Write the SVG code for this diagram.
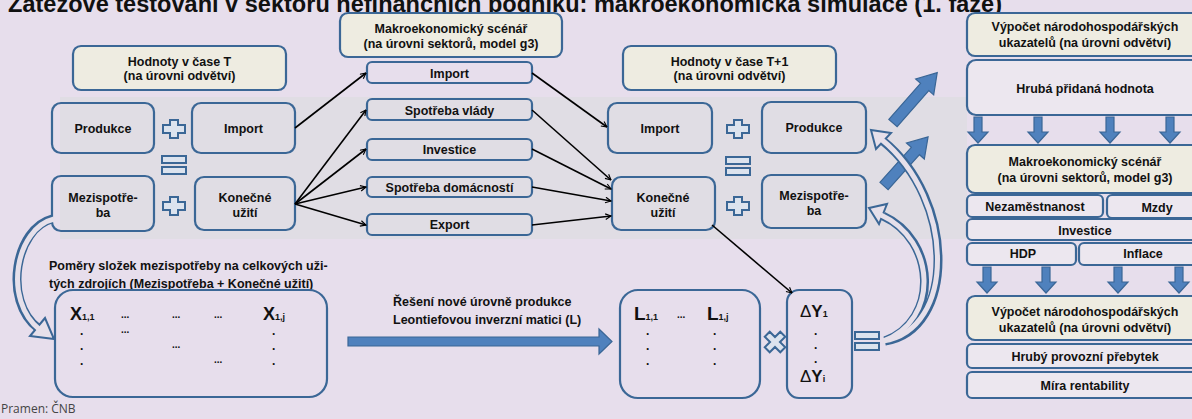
<svg xmlns="http://www.w3.org/2000/svg" width="1192" height="419" viewBox="0 0 1192 419">
<style>
.t{font-family:"Liberation Sans",Arial,sans-serif;font-weight:bold;font-size:12.5px;fill:#111;text-anchor:middle}
.tl{font-family:"Liberation Sans",Arial,sans-serif;font-weight:bold;font-size:12.5px;fill:#111}
.hd{fill:#EEECE1;stroke:#3B6796;stroke-width:2.2}
.bx{fill:none;stroke:#3B6796;stroke-width:2.2}
.rb{fill:#ECE7EF;stroke:#3B6796;stroke-width:2.2}
.sym{fill:#DCE3EE;stroke:#3B6796;stroke-width:2}
.ln{stroke:#000;stroke-width:1.6;fill:none;marker-end:url(#ah)}
.fat{fill:#4F81BD;stroke:#3A6696;stroke-width:1.2}
.cvo{fill:none;stroke:#3B6796;stroke-width:9}
.cvi{fill:none;stroke:#E6E0EA;stroke-width:5}
.hh{fill:#E6E0EA;stroke:#3B6796;stroke-width:2}
.mx{font-family:"Liberation Sans",Arial,sans-serif;font-weight:bold;fill:#111}
</style>
<defs>
<marker id="ah" viewBox="0 0 10 10" refX="9" refY="5" markerWidth="7" markerHeight="7" orient="auto" markerUnits="userSpaceOnUse">
<path d="M1,1 L9,5 L1,9" fill="none" stroke="#000" stroke-width="1.6"/>
</marker>
<path id="plus" d="M-4,-9 h8 v5 h7 v8 h-7 v5 h-8 v-5 h-7 v-8 h7 z"/>
<g id="eq"><rect x="-12" y="-9" width="24" height="7"/><rect x="-12" y="2" width="24" height="7"/></g>
<path id="times" d="M-3.5,-11 h7 v7.5 h7.5 v7 h-7.5 v7.5 h-7 v-7.5 h-7.5 v-7 h7.5 z" transform="rotate(45)"/>
<path id="down" d="M-4,0 h8 v15 h6 l-10,11 l-10,-11 h6 z"/>
</defs>

<rect width="1192" height="419" fill="#E7DEEC"/>
<rect x="60" y="97" width="907" height="142" fill="#E0DDE4"/>

<text x="8" y="11.5" font-family="Liberation Sans,Arial,sans-serif" font-weight="bold" font-size="23" fill="#111" textLength="994" lengthAdjust="spacingAndGlyphs">Zátěžové testování v sektoru nefinančních podniků: makroekonomická simulace (1. fáze)</text>

<g id="hodnotyT">
<rect class="hd" x="73" y="46" width="213" height="44" rx="8"/>
<text class="t" x="179.5" y="65.5">Hodnoty v čase T</text>
<text class="t" x="179.5" y="80">(na úrovni odvětví)</text>
</g>
<g id="produkceT"><rect class="bx" x="52" y="103" width="102" height="50" rx="9"/><text class="t" x="103" y="132.5">Produkce</text></g>
<g id="importT"><rect class="bx" x="192" y="103" width="103" height="50" rx="9"/><text class="t" x="243.5" y="132.5">Import</text></g>
<g id="mezispotrebaT"><rect class="bx" x="52" y="176" width="102" height="55" rx="9"/><text class="t" x="103" y="201.5">Mezispotře-</text><text class="t" x="103" y="216.5">ba</text></g>
<g id="konecneT"><rect class="bx" x="195" y="177" width="100" height="53" rx="9"/><text class="t" x="245" y="201.5">Konečné</text><text class="t" x="245" y="216.5">užití</text></g>
<g id="symT" class="sym"><use href="#plus" x="174" y="129"/><use href="#eq" x="174" y="165"/><use href="#plus" x="174" y="206"/></g>

<g id="makro">
<rect class="hd" x="340" y="13" width="222" height="44" rx="8"/>
<text class="t" x="451" y="32.5">Makroekonomický scénář</text>
<text class="t" x="451" y="47.5">(na úrovni sektorů, model g3)</text>
</g>
<g id="m-import"><rect class="bx" x="367" y="62" width="165" height="21" rx="5"/><text class="t" x="449.5" y="77.5">Import</text></g>
<g id="m-vlady"><rect class="bx" x="367" y="99" width="165" height="21" rx="5"/><text class="t" x="449.5" y="114.5">Spotřeba vlády</text></g>
<g id="m-investice"><rect class="bx" x="367" y="139" width="165" height="21" rx="5"/><text class="t" x="449.5" y="154">Investice</text></g>
<g id="m-domacnosti"><rect class="bx" x="367" y="177" width="165" height="20" rx="5"/><text class="t" x="449.5" y="191.5">Spotřeba domácností</text></g>
<g id="m-export"><rect class="bx" x="367" y="214" width="165" height="21" rx="5"/><text class="t" x="449.5" y="229">Export</text></g>

<g id="hodnotyT1">
<rect class="hd" x="623" y="46" width="213" height="44" rx="8"/>
<text class="t" x="729.5" y="65.5">Hodnoty v čase T+1</text>
<text class="t" x="729.5" y="80">(na úrovni odvětví)</text>
</g>
<g id="importT1"><rect class="bx" x="608" y="103" width="104" height="50" rx="9"/><text class="t" x="660" y="132.5">Import</text></g>
<g id="produkceT1"><rect class="bx" x="762" y="102" width="104" height="51" rx="9"/><text class="t" x="814" y="131.5">Produkce</text></g>
<g id="konecneT1"><rect class="bx" x="612" y="177" width="103" height="53" rx="9"/><text class="t" x="663" y="201.5">Konečné</text><text class="t" x="663" y="216.5">užití</text></g>
<g id="mezispotrebaT1"><rect class="bx" x="762" y="175" width="104" height="53" rx="9"/><text class="t" x="814" y="199.5">Mezispotře-</text><text class="t" x="814" y="214.5">ba</text></g>
<g id="symT1" class="sym"><use href="#plus" x="738" y="129"/><use href="#eq" x="738" y="166"/><use href="#plus" x="738" y="206"/></g>

<g id="pomery">
<text class="tl" x="49" y="270">Poměry  složek mezispotřeby na celkových uži-</text>
<text class="tl" x="49" y="288">tých zdrojích (Mezispotřeba + Konečné užití)</text>
</g>
<g id="matrixX">
<rect class="bx" x="55" y="290" width="272" height="107" rx="18"/>
<g class="mx">
<text x="70" y="320" font-size="18">X<tspan font-size="9">1,1</tspan></text>
<text x="263" y="320" font-size="18">X<tspan font-size="9">1,j</tspan></text>
<g font-size="10"><text x="121" y="318">...</text><text x="172" y="318">...</text><text x="214" y="318">...</text>
<text x="121" y="333">...</text><text x="172" y="348">...</text><text x="214" y="363">...</text></g>
<g font-size="12"><text x="80" y="335">.</text><text x="80" y="350">.</text><text x="80" y="365">.</text>
<text x="272" y="335">.</text><text x="272" y="350">.</text><text x="272" y="365">.</text></g>
</g>
</g>

<g id="reseni">
<text class="tl" x="393" y="306">Řešení nové úrovně produkce</text>
<text class="tl" x="393" y="324">Leontiefovou inverzní matici (L)</text>
</g>

<g id="matrixL">
<rect class="bx" x="620" y="290" width="140" height="108" rx="18"/>
<g class="mx">
<text x="634" y="320" font-size="19">L<tspan font-size="9">1,1</tspan></text>
<text x="707" y="320" font-size="19">L<tspan font-size="9">1,j</tspan></text>
<text x="677" y="318" font-size="10">...</text>
<g font-size="12"><text x="646" y="335">.</text><text x="646" y="350">.</text><text x="646" y="365">.</text>
<text x="713" y="335">.</text><text x="713" y="350">.</text><text x="713" y="365">.</text></g>
</g>
</g>
<g id="matrixY">
<rect class="bx" x="787" y="290" width="65" height="108" rx="12"/>
<g class="mx">
<text x="800" y="317" font-size="17"><tspan font-weight="normal">Δ</tspan>Y<tspan font-size="9">1</tspan></text>
<text x="800" y="382" font-size="17"><tspan font-weight="normal">Δ</tspan>Y<tspan font-size="9">i</tspan></text>
<g font-size="12"><text x="814" y="335">.</text><text x="814" y="349">.</text><text x="814" y="363">.</text></g>
</g>
</g>
<g id="symBottom" class="sym"><use href="#times" x="775" y="342"/><use href="#eq" x="867" y="341"/></g>

<g id="rightColumn">
<rect class="hd" x="967" y="13" width="236" height="43" rx="8"/>
<text class="t" x="1085" y="30.5">Výpočet národohospodářských</text>
<text class="t" x="1085" y="46.5">ukazatelů (na úrovni odvětví)</text>
<rect class="rb" x="967" y="60" width="236" height="55" rx="9"/>
<text class="t" x="1085" y="92.5">Hrubá přidaná hodnota</text>
<g class="fat"><use href="#down" x="978" y="117"/><use href="#down" x="1038" y="117"/><use href="#down" x="1110" y="117"/><use href="#down" x="1170" y="117"/></g>
<rect class="hd" x="967" y="145" width="236" height="48" rx="8"/>
<text class="t" x="1085" y="166">Makroekonomický scénář</text>
<text class="t" x="1085" y="182">(na úrovni sektorů, model g3)</text>
<rect class="rb" x="967" y="195" width="136" height="22" rx="5"/>
<text class="t" x="1035" y="211">Nezaměstnanost</text>
<rect class="rb" x="1107" y="195" width="96" height="23" rx="5"/>
<text class="t" x="1157" y="212">Mzdy</text>
<rect class="rb" x="967" y="219" width="236" height="21" rx="5"/>
<text class="t" x="1085" y="234.5">Investice</text>
<rect class="rb" x="967" y="243" width="109" height="22" rx="5"/>
<text class="t" x="1023" y="257.5">HDP</text>
<rect class="rb" x="1079" y="243" width="124" height="22" rx="5"/>
<text class="t" x="1143" y="257.5">Inflace</text>
<g class="fat"><use href="#down" x="987" y="267"/><use href="#down" x="1046" y="267"/><use href="#down" x="1118" y="267"/><use href="#down" x="1179" y="267"/></g>
<rect class="hd" x="967" y="296" width="236" height="44" rx="8"/>
<text class="t" x="1085" y="316">Výpočet národohospodářských</text>
<text class="t" x="1085" y="331.5">ukazatelů (na úrovni odvětví)</text>
<rect class="rb" x="967" y="344" width="236" height="24" rx="5"/>
<text class="t" x="1085" y="361">Hrubý provozní přebytek</text>
<rect class="rb" x="967" y="372" width="236" height="26" rx="5"/>
<text class="t" x="1085" y="389.5">Míra rentability</text>
</g>

<g id="connectors">
<line class="ln" x1="295" y1="128" x2="366" y2="73"/>
<line class="ln" x1="295" y1="204" x2="366" y2="110"/>
<line class="ln" x1="295" y1="204" x2="366" y2="149"/>
<line class="ln" x1="295" y1="204" x2="366" y2="187"/>
<line class="ln" x1="295" y1="204" x2="366" y2="225"/>
<line class="ln" x1="532" y1="73" x2="607" y2="127"/>
<line class="ln" x1="532" y1="110" x2="611" y2="180"/>
<line class="ln" x1="532" y1="149" x2="611" y2="189"/>
<line class="ln" x1="532" y1="187" x2="611" y2="201"/>
<line class="ln" x1="532" y1="225" x2="611" y2="216"/>
<line class="ln" x1="712" y1="225" x2="792" y2="293"/>

<polygon class="fat" points="348,337 599,337 599,329 612,341.5 599,354 599,346 348,346"/>
<polygon class="fat" transform="translate(893,123) rotate(-48.7)" points="0,-5.5 48,-5.5 48,-12 67,0 48,12 48,5.5 0,5.5"/>
<polygon class="fat" transform="translate(884,186) rotate(-48.1)" points="0,-5.5 47,-5.5 47,-12 66,0 47,12 47,5.5 0,5.5"/>

<g id="curveLeft">
<path class="cvo" d="M52,219 C16,228 2,300 38,328"/>
<polygon class="hh" points="54,339 30,336 45,318"/>
<path class="cvi" d="M54,219 C16,228 2,300 40,330"/>
</g>
<g id="curveRight">
<path class="cvo" d="M885,341 C956,330 956,200 883,141"/>
<path class="cvo" d="M885,341 C940,320 936,240 883,216"/>
<polygon class="hh" points="871,130 891,133 876,149"/>
<polygon class="hh" points="869,208 887,204 879,224"/>
<path class="cvi" d="M883,341 C956,330 956,200 881,139"/>
<path class="cvi" d="M883,341 C940,320 936,240 881,215"/>
</g>
</g>

<text x="1" y="413" font-family="Open Sans,Liberation Sans,sans-serif" font-size="12" fill="#444">Pramen: ČNB</text>
</svg>
